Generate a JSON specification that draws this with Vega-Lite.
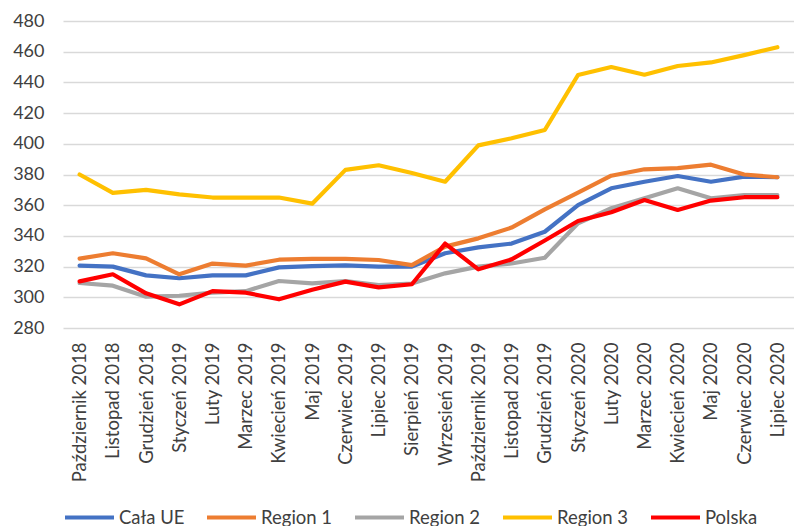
{
  "$schema": "https://vega.github.io/schema/vega-lite/v6.json",
  "autosize": {"type": "none"},
  "padding": {"left": 63, "top": 21, "right": 0, "bottom": 198},
  "width": 731,
  "height": 307,
  "background": "white",
  "config": {
    "font": "Lato",
    "view": {"stroke": null},
    "axis": {"labelFont": "Lato", "labelColor": "#404040"}
  },
  "data": {"values": [
    {"month":"Październik 2018","series":"Cała UE","value":320.6},
    {"month":"Listopad 2018","series":"Cała UE","value":320},
    {"month":"Grudzień 2018","series":"Cała UE","value":314.3},
    {"month":"Styczeń 2019","series":"Cała UE","value":312.4},
    {"month":"Luty 2019","series":"Cała UE","value":314.3},
    {"month":"Marzec 2019","series":"Cała UE","value":314.3},
    {"month":"Kwiecień 2019","series":"Cała UE","value":319.5},
    {"month":"Maj 2019","series":"Cała UE","value":320.3},
    {"month":"Czerwiec 2019","series":"Cała UE","value":320.8},
    {"month":"Lipiec 2019","series":"Cała UE","value":320},
    {"month":"Sierpień 2019","series":"Cała UE","value":320},
    {"month":"Wrzesień 2019","series":"Cała UE","value":328.7},
    {"month":"Październik 2019","series":"Cała UE","value":332.5},
    {"month":"Listopad 2019","series":"Cała UE","value":335},
    {"month":"Grudzień 2019","series":"Cała UE","value":342.7},
    {"month":"Styczeń 2020","series":"Cała UE","value":360},
    {"month":"Luty 2020","series":"Cała UE","value":371},
    {"month":"Marzec 2020","series":"Cała UE","value":375.3},
    {"month":"Kwiecień 2020","series":"Cała UE","value":379},
    {"month":"Maj 2020","series":"Cała UE","value":375.3},
    {"month":"Czerwiec 2020","series":"Cała UE","value":378.6},
    {"month":"Lipiec 2020","series":"Cała UE","value":378.2},

    {"month":"Październik 2018","series":"Region 1","value":325.2},
    {"month":"Listopad 2018","series":"Region 1","value":328.7},
    {"month":"Grudzień 2018","series":"Region 1","value":325.4},
    {"month":"Styczeń 2019","series":"Region 1","value":315},
    {"month":"Luty 2019","series":"Region 1","value":322},
    {"month":"Marzec 2019","series":"Region 1","value":320.6},
    {"month":"Kwiecień 2019","series":"Region 1","value":324.5},
    {"month":"Maj 2019","series":"Region 1","value":325},
    {"month":"Czerwiec 2019","series":"Region 1","value":325},
    {"month":"Lipiec 2019","series":"Region 1","value":324.3},
    {"month":"Sierpień 2019","series":"Region 1","value":321},
    {"month":"Wrzesień 2019","series":"Region 1","value":333},
    {"month":"Październik 2019","series":"Region 1","value":338.4},
    {"month":"Listopad 2019","series":"Region 1","value":345.4},
    {"month":"Grudzień 2019","series":"Region 1","value":357.3},
    {"month":"Styczeń 2020","series":"Region 1","value":368.2},
    {"month":"Luty 2020","series":"Region 1","value":379.2},
    {"month":"Marzec 2020","series":"Region 1","value":383.4},
    {"month":"Kwiecień 2020","series":"Region 1","value":384.2},
    {"month":"Maj 2020","series":"Region 1","value":386.4},
    {"month":"Czerwiec 2020","series":"Region 1","value":380},
    {"month":"Lipiec 2020","series":"Region 1","value":378.2},

    {"month":"Październik 2018","series":"Region 2","value":309.3},
    {"month":"Listopad 2018","series":"Region 2","value":307.6},
    {"month":"Grudzień 2018","series":"Region 2","value":300.4},
    {"month":"Styczeń 2019","series":"Region 2","value":301},
    {"month":"Luty 2019","series":"Region 2","value":303},
    {"month":"Marzec 2019","series":"Region 2","value":304},
    {"month":"Kwiecień 2019","series":"Region 2","value":310.6},
    {"month":"Maj 2019","series":"Region 2","value":309.1},
    {"month":"Czerwiec 2019","series":"Region 2","value":310.6},
    {"month":"Lipiec 2019","series":"Region 2","value":308},
    {"month":"Sierpień 2019","series":"Region 2","value":309},
    {"month":"Wrzesień 2019","series":"Region 2","value":315.6},
    {"month":"Październik 2019","series":"Region 2","value":320},
    {"month":"Listopad 2019","series":"Region 2","value":322},
    {"month":"Grudzień 2019","series":"Region 2","value":325.8},
    {"month":"Styczeń 2020","series":"Region 2","value":348.2},
    {"month":"Luty 2020","series":"Region 2","value":358},
    {"month":"Marzec 2020","series":"Region 2","value":364.5},
    {"month":"Kwiecień 2020","series":"Region 2","value":371},
    {"month":"Maj 2020","series":"Region 2","value":364.5},
    {"month":"Czerwiec 2020","series":"Region 2","value":366.6},
    {"month":"Lipiec 2020","series":"Region 2","value":366.6},

    {"month":"Październik 2018","series":"Region 3","value":380},
    {"month":"Listopad 2018","series":"Region 3","value":368},
    {"month":"Grudzień 2018","series":"Region 3","value":370},
    {"month":"Styczeń 2019","series":"Region 3","value":367},
    {"month":"Luty 2019","series":"Region 3","value":365},
    {"month":"Marzec 2019","series":"Region 3","value":365},
    {"month":"Kwiecień 2019","series":"Region 3","value":365},
    {"month":"Maj 2019","series":"Region 3","value":361},
    {"month":"Czerwiec 2019","series":"Region 3","value":383},
    {"month":"Lipiec 2019","series":"Region 3","value":386},
    {"month":"Sierpień 2019","series":"Region 3","value":381},
    {"month":"Wrzesień 2019","series":"Region 3","value":375.3},
    {"month":"Październik 2019","series":"Region 3","value":399},
    {"month":"Listopad 2019","series":"Region 3","value":403.6},
    {"month":"Grudzień 2019","series":"Region 3","value":409},
    {"month":"Styczeń 2020","series":"Region 3","value":444.8},
    {"month":"Luty 2020","series":"Region 3","value":450},
    {"month":"Marzec 2020","series":"Region 3","value":445},
    {"month":"Kwiecień 2020","series":"Region 3","value":450.7},
    {"month":"Maj 2020","series":"Region 3","value":453},
    {"month":"Czerwiec 2020","series":"Region 3","value":457.8},
    {"month":"Lipiec 2020","series":"Region 3","value":462.9},

    {"month":"Październik 2018","series":"Polska","value":310.4},
    {"month":"Listopad 2018","series":"Polska","value":315},
    {"month":"Grudzień 2018","series":"Polska","value":302.6},
    {"month":"Styczeń 2019","series":"Polska","value":295.4},
    {"month":"Luty 2019","series":"Polska","value":304},
    {"month":"Marzec 2019","series":"Polska","value":303},
    {"month":"Kwiecień 2019","series":"Polska","value":298.7},
    {"month":"Maj 2019","series":"Polska","value":304.9},
    {"month":"Czerwiec 2019","series":"Polska","value":310.2},
    {"month":"Lipiec 2019","series":"Polska","value":306.5},
    {"month":"Sierpień 2019","series":"Polska","value":308.5},
    {"month":"Wrzesień 2019","series":"Polska","value":335},
    {"month":"Październik 2019","series":"Polska","value":318.2},
    {"month":"Listopad 2019","series":"Polska","value":324.7},
    {"month":"Grudzień 2019","series":"Polska","value":337},
    {"month":"Styczeń 2020","series":"Polska","value":349.7},
    {"month":"Luty 2020","series":"Polska","value":355.4},
    {"month":"Marzec 2020","series":"Polska","value":363.4},
    {"month":"Kwiecień 2020","series":"Polska","value":356.9},
    {"month":"Maj 2020","series":"Polska","value":363},
    {"month":"Czerwiec 2020","series":"Polska","value":365.2},
    {"month":"Lipiec 2020","series":"Polska","value":365.2}
  ]},
  "mark": {"type": "line", "strokeWidth": 4.2, "strokeJoin": "round", "strokeCap": "round"},
  "encoding": {
    "x": {
      "field": "month", "type": "nominal", "sort": null,
      "scale": {"type": "point", "padding": 0.5},
      "axis": {"title": null, "labelAngle": -90, "labelFontSize": 18.5, "labelPadding": 14, "ticks": false, "domain": false, "grid": false, "labelOverlap": false}
    },
    "y": {
      "field": "value", "type": "quantitative",
      "scale": {"domain": [280, 480], "nice": false, "zero": false},
      "axis": {"title": null, "values": [280,300,320,340,360,380,400,420,440,460,480], "labelFontSize": 18, "ticks": false, "domain": false, "gridColor": "#d9d9d9", "gridWidth": 1.3, "labelPadding": 19}
    },
    "color": {
      "field": "series", "type": "nominal", "sort": null,
      "scale": {"domain": ["Cała UE","Region 1","Region 2","Region 3","Polska"], "range": ["#4472C4","#ED7D31","#A5A5A5","#FFC000","#FF0000"]},
      "legend": {"title": null, "orient": "bottom", "direction": "horizontal", "symbolType": "stroke", "symbolStrokeWidth": 4, "symbolSize": 2400, "labelFontSize": 18.5, "labelFont": "Lato", "labelColor": "#404040", "columnPadding": 14, "offset": 9, "labelOffset": 3}
    }
  }
}
